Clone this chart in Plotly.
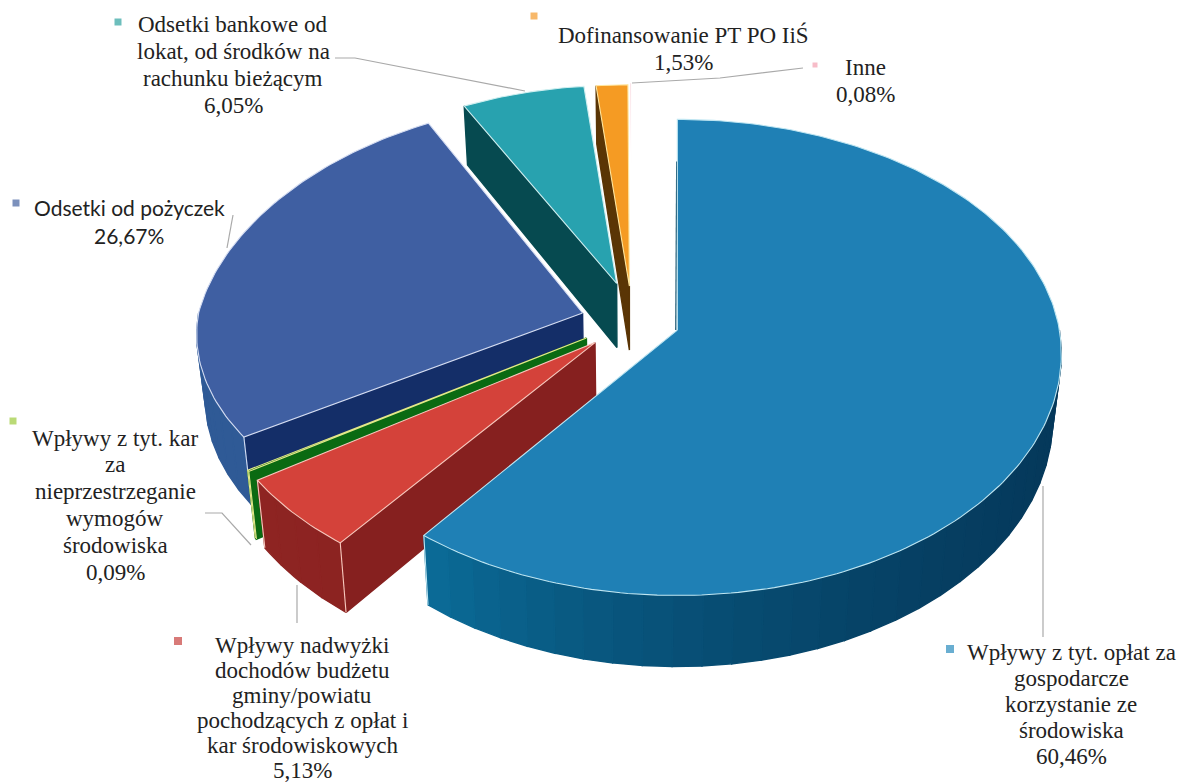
import numpy as np
import plotly.graph_objects as go

# ---- data (clockwise from 12 o'clock) ----
categories = ["Wpływy z tyt. opłat za gospodarcze korzystanie ze środowiska",
              "Wpływy nadwyżki dochodów budżetu gminy/powiatu pochodzących z opłat i kar środowiskowych",
              "Wpływy z tyt. kar za nieprzestrzeganie wymogów środowiska",
              "Odsetki od pożyczek",
              "Odsetki bankowe od lokat, od środków na rachunku bieżącym",
              "Dofinansowanie PT PO IiŚ",
              "Inne"]
values = [60.46, 5.13, 0.09, 26.67, 6.05, 1.53, 0.08]
label_lines = [["Wpływy z tyt. opłat za", "gospodarcze", "korzystanie ze", "środowiska"],
               ["Wpływy nadwyżki", "dochodów budżetu", "gminy/powiatu", "pochodzących z opłat i", "kar środowiskowych"],
               ["Wpływy z tyt. kar", "za", "nieprzestrzeganie", "wymogów", "środowiska"],
               ["Odsetki od pożyczek"],
               ["Odsetki bankowe od", "lokat, od środków na", "rachunku bieżącym"],
               ["Dofinansowanie PT PO IiŚ"],
               ["Inne"]]

# ---- styling ----
top_col = ["#1F80B5", "#D4423A", "#0A6A12", "#3F5FA2", "#28A2AF", "#F59B23", "#F8D0D8"]
face_col = ["#0A5A80", "#86201F", "#0A6A12", "#142E68", "#064A50", "#5A3505", "#FFFFFF"]
rim_col = [("#05385A", "#0B6C98"), ("#86201F", "#8E2422"), ("#0A6A12", "#0A6A12"),
           ("#2F5A96", "#2F5A96"), ("#064A50", "#064A50"), ("#5A3505", "#5A3505"), ("#FFFFFF", "#FFFFFF")]
edge_col = ["#BFE6F2", "#F7C9BE", "#E4E88A", "#D5DDF2", "#CFEFF0", "#FFE7A0", "#FFFFFF"]
mark_col = ["#2A8CBE", "#C8423F", "#9CCB3C", "#44639F", "#2FA39F", "#F39A2B", "#F4A0B0"]
# first-line centre of every label block and its line step
label_first = [(1071, 652), (302, 645), (115, 438), (129, 207), (233, 24), (683, 35), (865, 67)]
label_step = [26.2, 25.0, 26.8, 28, 27, 27, 27]
mark_pos = [(950, 649), (178, 641), (13, 421), (16, 203), (118, 22), (534, 16), (815, 65)]
mark_size = [8, 8, 7, 7, 7, 7, 5]
leaders = [[(1043, 486), (1043, 637)], [(297, 585), (297, 623)],
           [(205, 513), (222, 513), (251, 545)], [(233, 215), (227, 248)],
           [(335, 58), (355, 58), (525, 91)], [(632, 83), (720, 78), (803, 68)]]

# ---- projection of the tilted, exploded pie ----
CX, CY = 631, 322
A, B = 384, 233
K = 0.10
H = 64
PULL_X, PULL_Y = 50, 36
nudge = [(-1, -3.5), (0.5, -4), (-3, -4), (0, 0), (0, -4), (1, 0), (0, 0)]
radius = [0.995, 1, 1, 1, 0.935, 0.95, 0.96]
front_y = [1.03, 1, 0.97, 0.91, 1, 1, 1]
back_x = [1, 1, 1, 0.938, 1, 1, 1]


def sc(theta):
    return 1 / (1 + K * np.cos(theta))


def project(theta, r, apex, i, low=False):
    s = sc(theta) if r > 0 else 1
    c = np.cos(theta)
    fx = 1 - (1 - back_x[i]) * max(c, 0)
    x = apex[0] + A * r * radius[i] * np.sin(theta) * s * fx
    y = apex[1] - B * r * radius[i] * c * s * (front_y[i] if c < 0 else 1)
    if low:
        x = CX + (x - CX) * 0.98
        y = y + H * s
    return x, y


def poly(fig, xs, ys, fill, line=None, width=0.0, name=""):
    fig.add_trace(go.Scatter(x=list(xs) + [xs[0]], y=list(ys) + [ys[0]], mode="lines", fill="toself",
                             fillcolor=fill, line=dict(color=line or fill, width=width if line else 1.4),
                             hoverinfo="skip", showlegend=False, name=name))


def lerp(c1, c2, t):
    a = [int(c1[i:i + 2], 16) for i in (1, 3, 5)]
    b = [int(c2[i:i + 2], 16) for i in (1, 3, 5)]
    return "rgb(%d,%d,%d)" % tuple(round(p + (q - p) * t) for p, q in zip(a, b))


fig = go.Figure()
edges = np.radians(np.concatenate([[0], np.cumsum(values)]) * 3.6)
paint_order = [6, 5, 4, 3, 2, 1, 0]
for i in paint_order:
    t0, t1 = edges[i], edges[i + 1]
    mid = (t0 + t1) / 2
    apex = (CX + PULL_X * np.sin(mid) + nudge[i][0], CY - PULL_Y * np.cos(mid) + nudge[i][1])
    # radial face on the leading edge, visible for the slices left of the centre
    if i != 0:
        p = [project(t0, 0, apex, i), project(t0, 1, apex, i),
             project(t0, 1, apex, i, True), project(t0, 0, apex, i, True)]
        poly(fig, [q[0] for q in p], [q[1] for q in p], face_col[i])
    else:
        p = [project(t0, 0, apex, i), project(t0 + 0.003, 0.8, apex, i)]
        fig.add_trace(go.Scatter(x=[q[0] - 1.5 for q in p], y=[q[1] for q in p], mode="lines",
                                 line=dict(color="#0A4A66", width=1.2), hoverinfo="skip", showlegend=False))
    # rim: only the part facing the viewer
    lo, hi = max(t0, np.pi / 2), min(t1, 3 * np.pi / 2)
    if hi > lo:
        n = max(2, int(np.degrees(hi - lo) / 4))
        grid = np.linspace(lo, hi, n + 1)
        for a0, a1 in zip(grid[:-1], grid[1:]):
            arc = np.linspace(a0, a1, 4)
            up = [project(a, 1, apex, i) for a in arc]
            dn = [project(a, 1, apex, i, True) for a in arc[::-1]]
            f = ((a0 + a1) / 2 - np.pi / 2) / (hi - np.pi / 2 + 1e-9)
            poly(fig, [q[0] for q in up + dn], [q[1] for q in up + dn],
                 lerp(rim_col[i][0], rim_col[i][1], f ** 2.2))
        for a in (lo, hi):
            if a in (t0, t1):
                u, d = project(a, 1, apex, i), project(a, 1, apex, i, True)
                fig.add_trace(go.Scatter(x=[u[0], d[0]], y=[u[1], d[1]], mode="lines",
                                         line=dict(color=edge_col[i], width=1.1),
                                         hoverinfo="skip", showlegend=False))
    # top face
    arc = np.linspace(t0, t1, max(3, int(np.degrees(t1 - t0)) + 2))
    pts = [project(0, 0, apex, i)] + [project(a, 1, apex, i) for a in arc]
    poly(fig, [q[0] for q in pts], [q[1] for q in pts], top_col[i], line=edge_col[i], width=1.1,
         name=categories[i])

for seg in leaders:
    fig.add_trace(go.Scatter(x=[q[0] for q in seg], y=[q[1] for q in seg], mode="lines",
                             line=dict(color="#A9A9A9", width=1.2), hoverinfo="skip", showlegend=False))

fig.add_trace(go.Scatter(x=[q[0] for q in mark_pos], y=[q[1] for q in mark_pos], mode="markers",
                         marker=dict(symbol="square", size=mark_size, color=mark_col, line=dict(width=0)),
                         hoverinfo="skip", showlegend=False))

for i, lines in enumerate(label_lines):
    pct = f"{values[i]:.2f}".replace(".", ",") + "%"
    sans = i == 3
    for j, line in enumerate(lines + [pct]):
        fig.add_annotation(x=label_first[i][0], y=label_first[i][1] + j * label_step[i],
                           xanchor="center", yanchor="middle", text=line, showarrow=False, align="center",
                           font=dict(family="Lato" if sans else "Liberation Serif",
                                     size=21 if sans else 23, color="#222222"))

fig.update_xaxes(range=[0, 1178], visible=False, fixedrange=True)
fig.update_yaxes(range=[784, 0], visible=False, fixedrange=True)
fig.update_layout(width=1178, height=784, margin=dict(l=0, r=0, t=0, b=0), autosize=False,
                  paper_bgcolor="white", plot_bgcolor="white", showlegend=False)
fig.write_html("out.html", config=dict(displayModeBar=False),
               post_script="document.body.style.margin='0';document.body.style.overflow='hidden';")
